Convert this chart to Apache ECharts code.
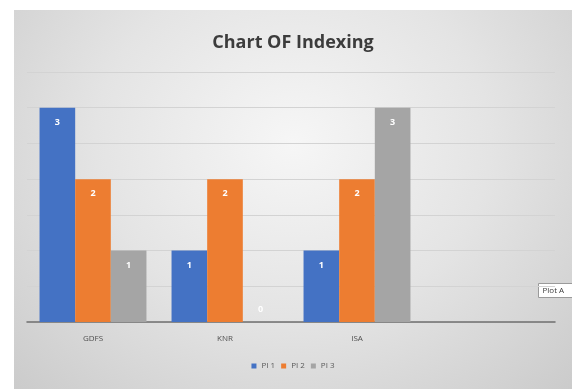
<!DOCTYPE html>
<html>
<head>
<meta charset="utf-8">
<script src="https://cdn.jsdelivr.net/npm/echarts@6/dist/echarts.min.js"></script>
<style>
  body { margin: 0; background: #fff; }
  #chart {
    position: absolute; left: 14px; top: 10px; width: 558px; height: 379px;
    background: radial-gradient(ellipse at 50% 35%, #f6f6f6 0%, #e4e4e4 50%, #cbcbcb 100%);
  }
</style>
</head>
<body>
<div id="chart"></div>
<script>
const categories = ['GDFS', 'KNR', 'ISA', ''];
const pi1 = [3, 1, 1, null];
const pi2 = [2, 2, 2, null];
const pi3 = [1, 0, 3, null];
const seriesNames = ['PI 1', 'PI 2', 'PI 3'];
const colors = ['#4472C4', '#ED7D31', '#A5A5A5'];

const chart = echarts.init(document.getElementById('chart'));

// zero bars get their label above the axis line
const toData = (arr) => arr.map((v) => (v === 0
  ? { value: v, label: { position: 'insideBottom', distance: 8 } }
  : v));

const makeSeries = (name, arr, i) => ({
  name,
  type: 'bar',
  data: toData(arr),
  barGap: '0%',
  barCategoryGap: '19%',
  itemStyle: { color: colors[i] },
  label: {
    show: true,
    position: 'insideTop',
    distance: 10,
    color: '#ffffff',
    fontSize: 9,
    fontWeight: 'bold',
    fontFamily: 'Open Sans',
  },
});

chart.setOption({
  animation: false,
  backgroundColor: 'transparent',
  title: {
    text: 'Chart OF Indexing',
    left: 'center',
    top: 19,
    textStyle: { fontSize: 18, fontWeight: 'bold', color: '#3c3c3c', fontFamily: 'Open Sans' },
  },
  legend: {
    data: seriesNames,
    bottom: 14,
    left: 'center',
    itemWidth: 5,
    itemHeight: 5,
    itemGap: 6,
    icon: 'rect',
    textStyle: { fontSize: 8, color: '#595959', fontFamily: 'Open Sans' },
  },
  grid: { left: 13, right: 17, top: 62, bottom: 67 },
  xAxis: {
    type: 'category',
    data: categories,
    axisLine: { lineStyle: { color: '#6f6f6f', width: 1.5 } },
    axisTick: { show: false },
    axisLabel: { fontSize: 8, color: '#505050', margin: 13, fontFamily: 'Open Sans' },
  },
  yAxis: {
    type: 'value',
    min: 0,
    max: 3.5,
    interval: 0.5,
    axisLine: { show: false },
    axisLabel: { show: false },
    axisTick: { show: false },
    splitLine: { lineStyle: { color: '#d3d3d3', width: 1 } },
  },
  series: [pi1, pi2, pi3].map((arr, i) => makeSeries(seriesNames[i], arr, i)),
  graphic: [
    {
      type: 'group',
      left: 524,
      top: 273,
      children: [
        { type: 'rect', shape: { x: 0, y: 0, width: 40, height: 14 }, style: { fill: '#ffffff', stroke: '#9a9a9a', lineWidth: 1 } },
        { type: 'text', x: 4, y: 3, style: { text: 'Plot A', fontSize: 8, fill: '#404040', fontFamily: 'Open Sans' } },
      ],
    },
  ],
});
</script>
</body>
</html>
